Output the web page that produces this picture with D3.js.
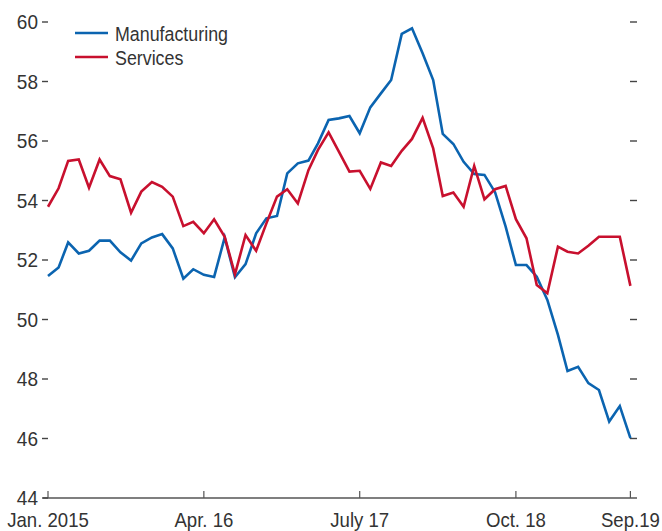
<!DOCTYPE html>
<html>
<head>
<meta charset="utf-8">
<script src="https://cdn.jsdelivr.net/npm/d3@7"></script>
<style>
  html, body { margin: 0; padding: 0; background: #fff; }
  svg text { font-family: "Liberation Sans Narrow", "Arial Narrow", "Liberation Sans", sans-serif; fill: #333; }
</style>
</head>
<body>
<svg id="chart" width="662" height="531"></svg>
<script>
const months = d3.range(57).map(i => new Date(2015, i, 1));

const manufacturing = [
  51.46, 51.75, 52.59, 52.22, 52.31, 52.65, 52.65, 52.26, 51.98, 52.56,
  52.76, 52.87, 52.39, 51.37, 51.69, 51.50, 51.43, 52.76, 51.42, 51.86,
  52.90, 53.40, 53.48, 54.91, 55.25, 55.34, 55.92, 56.71, 56.76, 56.84,
  56.26, 57.13, 57.60, 58.05, 59.60, 59.79, 58.95, 58.05, 56.24, 55.90,
  55.30, 54.89, 54.86, 54.28, 53.12, 51.83, 51.83, 51.44, 50.66, 49.48,
  48.27, 48.41, 47.86, 47.63, 46.57, 47.09, 46.01
];

const services = [
  53.79, 54.41, 55.33, 55.38, 54.43, 55.38, 54.82, 54.71, 53.59, 54.30,
  54.62, 54.46, 54.13, 53.14, 53.28, 52.90, 53.37, 52.78, 51.52, 52.84,
  52.31, 53.23, 54.13, 54.38, 53.90, 55.02, 55.70, 56.29, 55.64, 54.97,
  55.00, 54.39, 55.28, 55.16, 55.67, 56.07, 56.78, 55.75, 54.15, 54.27,
  53.79, 55.16, 54.04, 54.38, 54.49, 53.37, 52.73, 51.16, 50.88, 52.45,
  52.28, 52.22, 52.48, 52.78, 52.78, 52.78, 51.13
];

const seriesNames = ["Manufacturing", "Services"];
const seriesColors = ["#0b64b0", "#c8102e"];

const yTicks = [44, 46, 48, 50, 52, 54, 56, 58, 60];
const xTickIndex = [0, 15, 30, 45, 56];
const xTickLabels = ["Jan. 2015", "Apr. 16", "July 17", "Oct. 18", "Sep.19"];

const svg = d3.select("#chart");
const mLeft = 48, mRight = 630.4, mTop = 22, mBottom = 498;

const x = d3.scaleTime().domain([months[0], months[56]]).range([mLeft, mRight]);
const y = d3.scaleLinear().domain([44, 60]).range([mBottom, mTop]);

function label(g, px, py, txt, anchor, size, sx) {
  return g.append("text")
    .attr("transform", `translate(${px},${py}) scale(${sx},1)`)
    .attr("text-anchor", anchor).attr("font-size", size)
    .text(txt);
}

// x axis baseline
svg.append("line")
  .attr("x1", 43).attr("x2", 637)
  .attr("y1", mBottom).attr("y2", mBottom)
  .attr("stroke", "#555").attr("stroke-width", 1.6);

// x ticks (upward) and labels
const xg = svg.append("g");
xTickIndex.forEach((idx, k) => {
  const px = x(months[idx]);
  xg.append("line").attr("x1", px).attr("x2", px)
    .attr("y1", mBottom).attr("y2", mBottom - 7)
    .attr("stroke", "#555").attr("stroke-width", 1.2);
  label(xg, px, 527, xTickLabels[k], "middle", 20, 0.93);
});

// left y ticks and labels
const yg = svg.append("g");
yTicks.forEach(v => {
  yg.append("line").attr("x1", 42).attr("x2", 48)
    .attr("y1", y(v)).attr("y2", y(v))
    .attr("stroke", "#444").attr("stroke-width", 1.4);
  label(yg, 38, y(v) + 7, String(v), "end", 20, 0.95);
});
// right y ticks
yTicks.filter(v => v > 44).forEach(v => {
  yg.append("line").attr("x1", 630).attr("x2", 637)
    .attr("y1", y(v)).attr("y2", y(v))
    .attr("stroke", "#444").attr("stroke-width", 1.4);
});

// lines
const line = d3.line().x((d, i) => x(months[i])).y(d => y(d));
[manufacturing, services].forEach((s, k) => {
  svg.append("path").datum(s)
    .attr("fill", "none").attr("stroke", seriesColors[k])
    .attr("stroke-width", 2.6).attr("stroke-linejoin", "miter")
    .attr("d", line);
});

// legend
const lg = svg.append("g");
seriesNames.forEach((n, k) => {
  const ly = 33 + k * 24;
  lg.append("line").attr("x1", 75).attr("x2", 108)
    .attr("y1", ly).attr("y2", ly)
    .attr("stroke", seriesColors[k]).attr("stroke-width", 2.6);
  label(lg, 115, ly + 7.5, n, "start", 20.5, 0.87);
});
</script>
</body>
</html>
